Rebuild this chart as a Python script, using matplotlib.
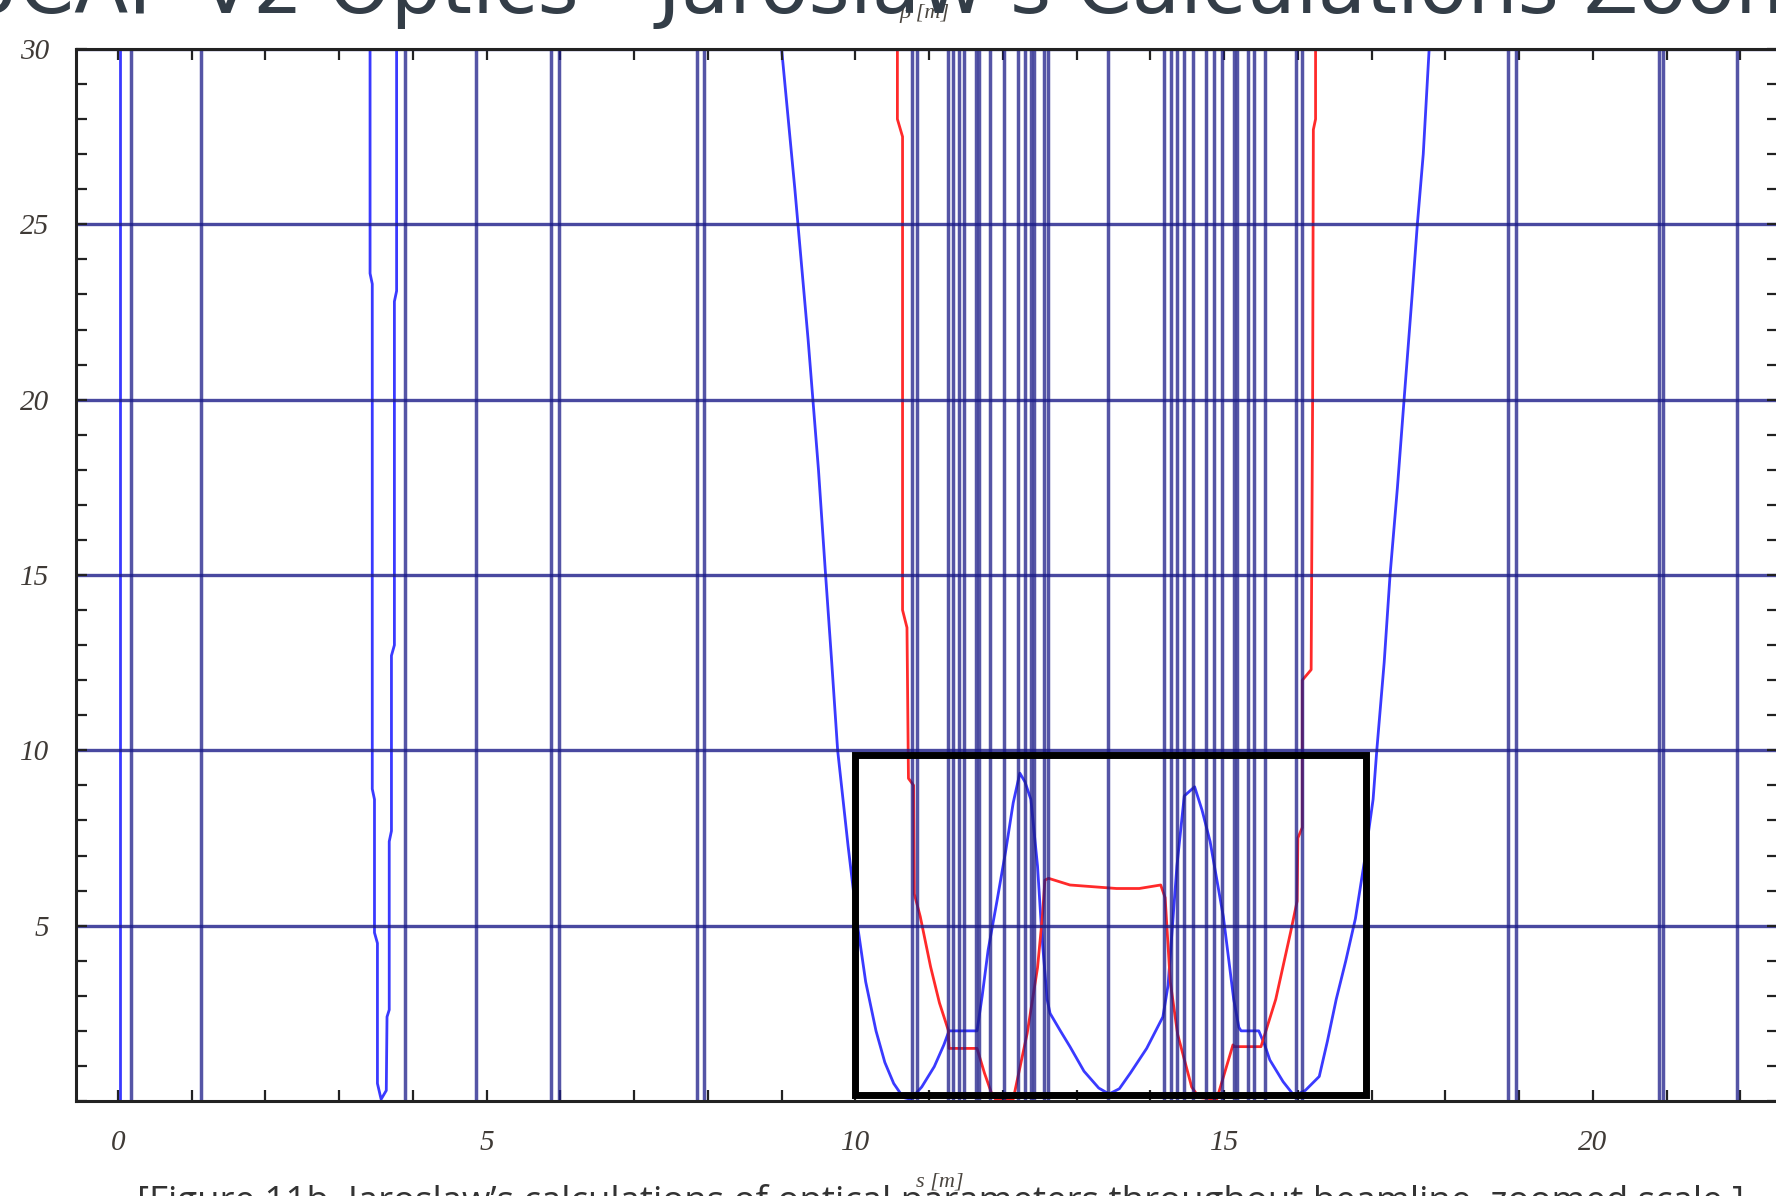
import matplotlib
matplotlib.use("Agg")
import matplotlib.pyplot as plt
from matplotlib.ticker import MultipleLocator
from matplotlib.patches import Rectangle

# ---- data -------------------------------------------------------------
# longitudinal positions of beamline elements, s [m]
element_s = [0.18, 1.13, 3.89, 4.86, 5.87, 5.98, 7.85, 7.95,
             10.77, 10.84, 11.26, 11.33, 11.40, 11.47, 11.63, 11.67, 11.82,
             12.01, 12.20, 12.30, 12.38, 12.42, 12.56, 12.61,
             13.43,
             14.19, 14.28, 14.36, 14.46, 14.58, 14.75, 14.86, 14.97, 15.14,
             15.18, 15.33, 15.40, 15.55, 15.97, 16.05,
             18.85, 18.96, 20.90, 20.95, 21.95]

# horizontal beta function, first section (s = 0)
bx_start_s = [0.03, 0.03]
bx_start_beta = [0.0, 30.0]

# horizontal beta function, first waist
bx_waist_s = [3.42, 3.42, 3.45, 3.45, 3.48, 3.48, 3.52, 3.52, 3.57, 3.64,
              3.65, 3.68, 3.68, 3.71, 3.71, 3.75, 3.75, 3.78, 3.78]
bx_waist_beta = [30.0, 23.6, 23.3, 8.9, 8.6, 4.8, 4.5, 0.5, 0.05, 0.3,
                 2.4, 2.6, 7.4, 7.7, 12.7, 13.0, 22.8, 23.1, 30.0]

# horizontal beta function, final focus section
bx_main_s = [9.00, 9.18, 9.36, 9.50, 9.59, 9.68, 9.76, 9.90, 10.03, 10.14,
             10.28, 10.40, 10.52, 10.65, 10.75, 10.90, 11.07, 11.20, 11.27,
             11.65, 11.72, 11.80, 11.92, 12.04, 12.14, 12.23, 12.30, 12.38,
             12.47, 12.53, 12.60, 12.64, 12.78, 12.91, 13.10, 13.30, 13.44,
             13.58, 13.73, 13.95, 14.17, 14.24, 14.30, 14.36, 14.46, 14.60,
             14.70, 14.81, 14.99, 15.13, 15.20, 15.23, 15.47, 15.55, 15.62,
             15.80, 15.95, 16.10, 16.29, 16.40, 16.52, 16.65, 16.78, 16.90,
             17.02, 17.07, 17.17, 17.25, 17.35, 17.44, 17.55, 17.62, 17.70,
             17.78]
bx_main_beta = [30.0, 26.0, 21.7, 18.0, 15.2, 12.5, 10.0, 7.3, 5.0, 3.4,
                2.0, 1.1, 0.5, 0.1, 0.05, 0.4, 0.98, 1.6, 2.0,
                2.0, 3.0, 4.3, 5.7, 7.15, 8.5, 9.35, 9.1, 8.6,
                6.7, 4.7, 2.9, 2.5, 2.0, 1.55, 0.85, 0.37, 0.2,
                0.35, 0.8, 1.5, 2.4, 3.3, 5.0, 6.7, 8.7, 8.96,
                8.3, 7.4, 5.25, 2.9, 2.1, 2.0, 2.0, 1.6, 1.17,
                0.55, 0.15, 0.3, 0.7, 1.7, 2.9, 4.0, 5.2, 6.8,
                8.6, 10.0, 12.5, 15.0, 17.5, 20.0, 23.0, 25.0, 27.0,
                30.0]

# vertical beta function
by_s = [10.57, 10.57, 10.64, 10.64, 10.70, 10.72, 10.79, 10.80, 10.88, 11.02,
        11.14, 11.26, 11.27, 11.65, 11.75, 11.85, 11.90, 12.14, 12.33, 12.47,
        12.54, 12.57, 12.62, 12.91, 13.54, 13.85, 14.14, 14.20, 14.27, 14.37,
        14.56, 14.66, 14.90, 15.12, 15.14, 15.50, 15.70, 15.90, 15.99, 16.00,
        16.06, 16.06, 16.18, 16.20, 16.21, 16.24, 16.24]
by_beta = [30.0, 28.0, 27.5, 14.0, 13.5, 9.2, 9.0, 5.9, 5.26, 3.83,
           2.8, 2.02, 1.5, 1.5, 0.8, 0.2, 0.05, 0.05, 1.93, 3.8,
           5.35, 6.3, 6.35, 6.16, 6.06, 6.06, 6.16, 5.8, 3.4, 1.9,
           0.4, 0.1, 0.05, 1.6, 1.55, 1.55, 2.9, 4.8, 5.7, 7.5,
           7.8, 12.0, 12.3, 20.0, 27.7, 28.0, 30.0]

# highlighted region (s range, beta range)
zoom_s = [10.00, 16.93]
zoom_beta = [0.17, 9.87]

x_ticks_major = 5
y_ticks_major = 5

# ---- figure -----------------------------------------------------------
W, H = 1776, 1196
fig = plt.figure(figsize=(W / 100, H / 100), dpi=100)
fig.patch.set_facecolor("white")

ax_l, ax_r, ax_t, ax_b = 76, 1778, 49, 1101
ax = fig.add_axes([ax_l / W, 1 - ax_b / H, (ax_r - ax_l) / W, (ax_b - ax_t) / H])
ax.set_xlim(-0.567, 22.51)
ax.set_ylim(0, 30)

navy = "#1c1c88"
curve_blue = "#3a3aff"
curve_red = "#ff2a2a"

ax.plot(bx_start_s, bx_start_beta, color=curve_blue, lw=2.0, zorder=2)
ax.plot(bx_waist_s, bx_waist_beta, color=curve_blue, lw=2.0, zorder=2)
ax.plot(bx_main_s, bx_main_beta, color=curve_blue, lw=2.0, zorder=2)
ax.plot(by_s, by_beta, color=curve_red, lw=2.0, zorder=2)

for s in element_s:
    ax.axvline(s, color=navy, lw=2.5, alpha=0.75, zorder=3)

ax.yaxis.grid(True, which="major", color=navy, lw=2.4, alpha=0.8, zorder=3)
ax.set_axisbelow(False)

ax.add_patch(Rectangle((zoom_s[0], zoom_beta[0]), zoom_s[1] - zoom_s[0],
                       zoom_beta[1] - zoom_beta[0], fill=False,
                       ec="black", lw=5.0, zorder=5))

ax.xaxis.set_major_locator(MultipleLocator(x_ticks_major))
ax.xaxis.set_minor_locator(MultipleLocator(1))
ax.yaxis.set_major_locator(MultipleLocator(y_ticks_major))
ax.yaxis.set_minor_locator(MultipleLocator(1))
ax.tick_params(which="both", direction="in", top=True, right=True,
               length=8, width=1.6, color="#222222")
ax.tick_params(axis="y", which="major", pad=19, labelsize=21,
               labelcolor="#3f3a36")
ax.tick_params(axis="x", which="major", pad=21, labelsize=21,
               labelcolor="#3f3a36")
ax.set_yticks([5, 10, 15, 20, 25, 30])
for lab in ax.get_xticklabels() + ax.get_yticklabels():
    lab.set_fontfamily(["Liberation Serif", "DejaVu Serif"])
    lab.set_fontstyle("italic")

for sp in ax.spines.values():
    sp.set_linewidth(2.2)
    sp.set_color("#222222")
    sp.set_zorder(6)

# axis captions
fig.text(924 / W, 1 - 13 / H, "β [m]", ha="center", va="center", fontsize=16,
         style="italic", family=["Liberation Serif", "DejaVu Serif"],
         color="#4b4640")
fig.text(940 / W, 1 - 1182 / H, "s [m]", ha="center", va="center", fontsize=16,
         style="italic", family=["Liberation Serif", "DejaVu Serif"],
         color="#4b4640")

# slide title and figure caption
fig.text(-39 / W, 1 - 13 / H, "UCAF V2 Optics - Jaroslaw\u2019s Calculations Zoomed",
         ha="left", va="baseline", fontsize=57, color="#333d47",
         family=["DejaVu Sans"])
fig.text(137 / W, 1 - 1212 / H,
         "[Figure 11b. Jaroslaw\u2019s calculations of optical parameters "
         "throughout beamline, zoomed scale.]",
         ha="left", va="baseline", fontsize=26.4, color="#333333",
         family=["Open Sans", "DejaVu Sans"])

fig.savefig("out.png", dpi=100, facecolor="white")
